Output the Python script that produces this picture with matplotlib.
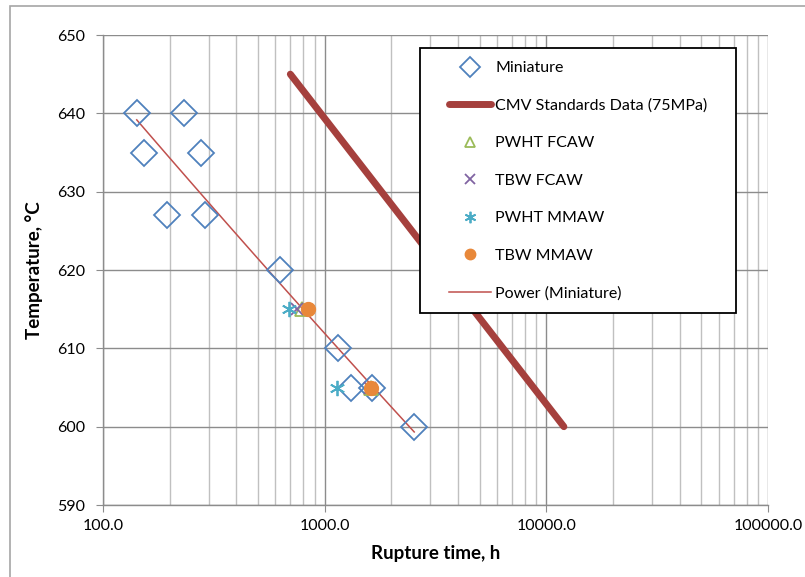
import numpy as np
import matplotlib.pyplot as plt
from matplotlib.ticker import LogLocator, FixedLocator, FuncFormatter
from matplotlib.patches import Rectangle

plt.rcParams['font.family'] = ['Lato', 'DejaVu Sans']

# Datos
mini_t = [142, 231, 153, 278, 195, 290, 628, 1143, 1321, 1642, 2535]
mini_T = [640, 640, 635, 635, 627, 627, 620, 610, 605, 605, 600]

cmv_t = [700, 12000]
cmv_T = [645, 600]

pwht_fcaw_t = [790, 1610]
pwht_fcaw_T = [615, 605]
tbw_fcaw_t = [748, 1600]
tbw_fcaw_T = [615, 605]
pwht_mmaw_t = [690, 1133]
pwht_mmaw_T = [615, 605]
tbw_mmaw_t = [840, 1610]
tbw_mmaw_T = [615, 605]

fig = plt.figure(figsize=(8.05, 5.77), dpi=100)
ax = fig.add_axes([103 / 805, 1 - 505 / 577, 665 / 805, 470 / 577])

# Marco exterior del grafico
fig.patches.append(Rectangle((10 / 805, -0.1), 1.2, 1 - 6 / 577 + 0.1, transform=fig.transFigure,
                             fill=False, edgecolor='#A6A6A6', linewidth=1.2))

ax.set_xscale('log')
ax.set_xlim(100, 100000)
ax.set_ylim(590, 650)

ax.plot(mini_t, mini_T, linestyle='none', marker='D', markersize=13, markerfacecolor='none',
        markeredgecolor='#4F81BD', markeredgewidth=1.3, label='Miniature', zorder=5)
ax.plot(cmv_t, cmv_T, color='#A5403D', linewidth=5, solid_capstyle='round',
        label='CMV Standards Data (75MPa)', zorder=4)
ax.plot(pwht_fcaw_t, pwht_fcaw_T, linestyle='none', marker='^', markersize=10, markerfacecolor='none',
        markeredgecolor='#9BBB59', markeredgewidth=1.3, label='PWHT FCAW', zorder=5)
ax.plot(tbw_fcaw_t, tbw_fcaw_T, linestyle='none', marker='x', markersize=9,
        markeredgecolor='#8064A2', markeredgewidth=1.3, label='TBW FCAW', zorder=5)
ax.plot(pwht_mmaw_t, pwht_mmaw_T, linestyle='none', marker=(6, 2, 0), markersize=11,
        markeredgecolor='#4BACC6', markeredgewidth=1.3, label='PWHT MMAW', zorder=5)
ax.plot(tbw_mmaw_t, tbw_mmaw_T, linestyle='none', marker='o', markersize=10,
        color='#E8883A', label='TBW MMAW', zorder=6)

# Linea de tendencia potencial (ajuste log-log como Excel)
b, lna = np.polyfit(np.log(mini_t), np.log(mini_T), 1)
fit_t = np.linspace(min(mini_t), max(mini_t), 100)
ax.plot(fit_t, np.exp(lna) * fit_t ** b, color='#C0504D', linewidth=1.1,
        label='Power (Miniature)', zorder=4)

# Ejes y rejilla
ax.xaxis.set_major_locator(LogLocator(base=10, numticks=10))
ax.xaxis.set_minor_locator(LogLocator(base=10, subs=np.arange(2, 10), numticks=20))
ax.xaxis.set_major_formatter(FuncFormatter(lambda v, p: f'{v:.1f}'))
ax.xaxis.set_minor_formatter(FuncFormatter(lambda v, p: ''))
ax.yaxis.set_major_locator(FixedLocator(np.arange(590, 651, 10)))

ax.grid(which='major', axis='both', color='#8C8C8C', linewidth=1.0, zorder=0)
ax.grid(which='minor', axis='x', color='#C0C0C0', linewidth=1.0, zorder=0)
ax.set_axisbelow(True)

for s in ['top', 'right']:
    ax.spines[s].set_visible(False)
for s in ['left', 'bottom']:
    ax.spines[s].set_color('#8C8C8C')
    ax.spines[s].set_linewidth(1.0)

ax.tick_params(which='major', direction='out', length=5, color='#8C8C8C', labelsize=11.5,
               labelcolor='black', pad=8)
ax.tick_params(which='minor', length=0)
ax.tick_params(axis='x', pad=5)

ax.set_xlabel('Rupture time, h', fontsize=13.5, fontweight='bold', labelpad=9)
ax.set_ylabel('Temperature, °C', fontsize=13.5, fontweight='bold', labelpad=10)

# Leyenda sin marco; el marco se dibuja aparte para fijar su tamaño
fig.patches.append(Rectangle((420 / 805, 1 - 313 / 577), 316 / 805, 265 / 577,
                             transform=fig.transFigure, facecolor='white', edgecolor='black',
                             linewidth=1.3, zorder=8))
handles, labels = ax.get_legend_handles_labels()
leg = fig.legend(handles, labels, loc='upper left', bbox_to_anchor=(449 / 805, 1 - 61 / 577),
                 fontsize=11.5, frameon=False, labelspacing=1.46, borderpad=0,
                 handlelength=2.6, handletextpad=0.3, borderaxespad=0, numpoints=1,
                 markerscale=0.75)
leg.set_zorder(10)

plt.savefig('out.png', dpi=100)
